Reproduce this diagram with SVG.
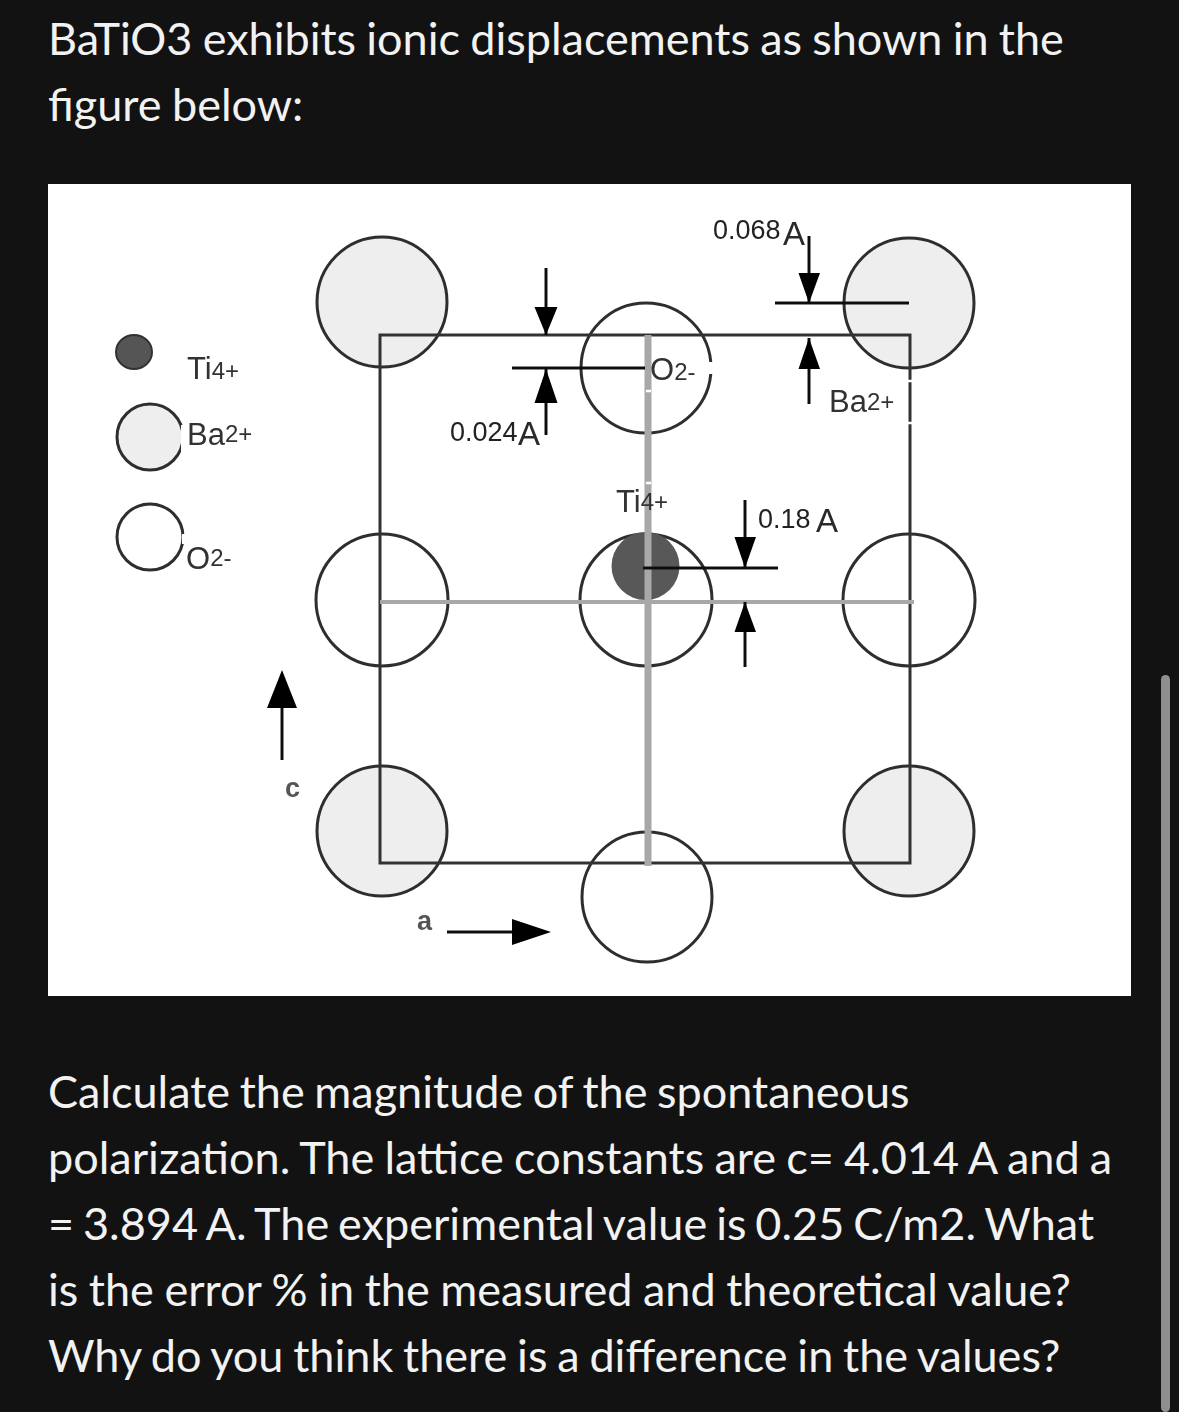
<svg xmlns="http://www.w3.org/2000/svg" width="1179" height="1412" viewBox="0 0 1179 1412">
<defs>
<filter id="soft" filterUnits="userSpaceOnUse" x="48" y="184" width="1083" height="812"><feGaussianBlur stdDeviation="0.55"/></filter>
</defs>
<style>
.q{font-family:"Lato","Liberation Sans",sans-serif;font-size:45px;fill:#f2f2f2}
.l{font-family:"Liberation Sans",Arial,sans-serif;fill:#333;font-size:31px}
.s{font-size:24px}
.n{font-family:"Liberation Sans",Arial,sans-serif;fill:#222;font-size:27px}
.a{font-family:"Liberation Sans",Arial,sans-serif;fill:#2a2a2a;font-size:33px}
.c{stroke:#2e2e2e;stroke-width:3;fill:#fff}
.b{stroke:#2e2e2e;stroke-width:3;fill:#eee}
.k{stroke:#333;stroke-width:3;fill:none}
.g{stroke:#a8a8a8;fill:none}
.d{stroke:#111;stroke-width:3;fill:none}
</style>
<rect width="1179" height="1412" fill="#121212"/>
<rect x="1161" y="675" width="9" height="737" rx="4.5" fill="#8f8f8f"/>
<text class="q" x="48" y="55" word-spacing="-1.3">BaTiO3 exhibits ionic displacements as shown in the</text>
<text class="q" x="48" y="121" word-spacing="-1">figure below:</text>
<rect x="48" y="184" width="1083" height="812" fill="#fff"/>
<g filter="url(#soft)">
<g id="ba-tl"><circle class="b" cx="382" cy="302" r="65"/></g>
<g id="ba-tr"><circle class="b" cx="909" cy="303" r="65"/></g>
<g id="ba-bl"><circle class="b" cx="382" cy="831" r="65"/></g>
<g id="ba-br"><circle class="b" cx="909" cy="831" r="65"/></g>
<g id="o-top"><circle class="c" cx="646" cy="368" r="65"/></g>
<g id="o-left"><circle class="c" cx="382" cy="600" r="66"/></g>
<g id="o-center"><circle class="c" cx="646" cy="600" r="66"/></g>
<g id="o-right"><circle class="c" cx="909" cy="600" r="66"/></g>
<g id="o-bottom"><circle class="c" cx="647" cy="897" r="65"/></g>
<g id="ti-center"><circle cx="645.500" cy="566" r="34" fill="#595959"/></g>
<g id="connectors">
<rect class="k" x="380" y="335" width="530" height="528"/>
<path class="g" stroke-width="4" d="M380 602H914"/>
<path class="g" stroke-width="7" d="M648 335V866"/>
<path d="M646 391h5M646 483h5M908 381h5M908 423h5" stroke="#fff" stroke-width="2.500"/>
<path d="M711 362v12" stroke="#fff" stroke-width="6"/>
<path class="d" d="M512 368H645M775 303H909M643 568H778"/>
<path class="d" d="M546 268V335"/>
<path class="d" d="M546 435V369"/>
<path class="d" d="M809 236V303"/>
<path class="d" d="M809 404V338"/>
<path class="d" d="M745 500V568"/>
<path class="d" d="M745 667V602"/>
<path d="M534.500 307H557.500L546 335ZM534.500 403H557.500L546 369ZM798.500 273H820L809 303ZM798.500 369H820L809 338ZM734.500 537H756L745 568ZM734.500 632H756L745 602Z" fill="#000"/>
<path class="d" d="M282 760V705"/>
<path d="M267 708H297L282 670Z" fill="#000"/>
<path class="d" d="M447 932H515"/>
<path d="M512 919L551 932L512 945Z" fill="#000"/>
</g>
<g id="legend-ti"><ellipse cx="134" cy="352" rx="18" ry="17" fill="#555" stroke="#333" stroke-width="2"/><text class="l" x="187" y="379">Ti<tspan class="s">4+</tspan></text></g>
<g id="legend-ba"><circle class="b" cx="150" cy="437" r="33"/><rect x="181" y="425" width="5" height="30" fill="#fff"/><text class="l" x="187" y="445">Ba<tspan class="s" dy="-3">2+</tspan></text></g>
<g id="legend-o"><circle class="c" cx="150" cy="537" r="33"/><rect x="182" y="534" width="4" height="10" fill="#fff"/><text class="l" x="186" y="569">O<tspan class="s" dy="-3">2-</tspan></text></g>
<g id="labels">
<text class="l" x="650" y="380">O<tspan class="s">2-</tspan></text>
<text class="l" x="829" y="412">Ba<tspan class="s" dy="-2">2+</tspan></text>
<text class="l" x="616" y="512">Ti<tspan class="s" dy="-2">4+</tspan></text>
<text class="n" x="713" y="239">0.068</text><text class="a" x="783" y="245">A</text>
<text class="n" x="450" y="441">0.024</text><text class="a" x="518" y="445">A</text>
<text class="n" x="758" y="528">0.18</text><text class="a" x="816" y="532">A</text>
<text class="n" x="285" y="797" style="font-weight:bold;fill:#555" font-size="24">c</text>
<text class="n" x="417" y="930" style="fill:#555;font-weight:bold">a</text>
</g>
</g>
<text class="q" x="48" y="1108" word-spacing="-1.9">Calculate the magnitude of the spontaneous</text>
<text class="q" x="48" y="1174" word-spacing="-1.3">polarization. The lattice constants are c= 4.014 A and a</text>
<text class="q" x="48" y="1240" word-spacing="-2.6">= 3.894 A. The experimental value is 0.25 C/m2. What</text>
<text class="q" x="48" y="1306" word-spacing="-0.95">is the error % in the measured and theoretical value?</text>
<text class="q" x="48" y="1372" word-spacing="-1.7">Why do you think there is a difference in the values?</text>
</svg>
